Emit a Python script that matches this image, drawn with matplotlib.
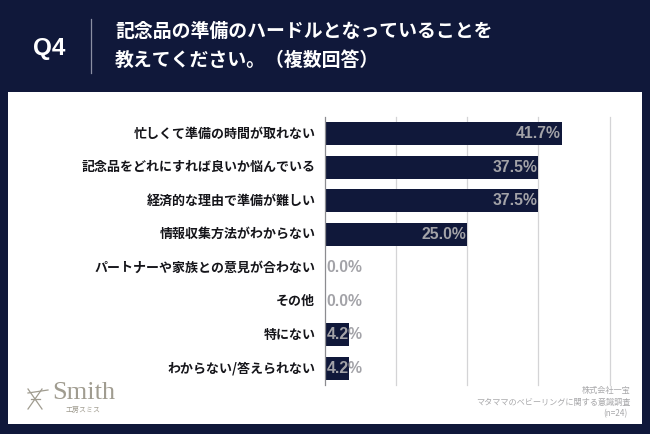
import matplotlib
matplotlib.use("Agg")
import matplotlib.pyplot as plt
from matplotlib.patches import Rectangle

plt.rcParams['font.family'] = ['Noto Sans CJK JP', 'DejaVu Sans']

categories = ["忙しくて準備の時間が取れない", "記念品をどれにすれば良いか悩んでいる", "経済的な理由で準備が難しい",
              "情報収集方法がわからない", "パートナーや家族との意見が合わない", "その他", "特にない", "わからない/答えられない"]
values = [41.7, 37.5, 37.5, 25.0, 0.0, 0.0, 4.2, 4.2]
grid_ticks = [12.5, 25, 37.5, 50]
title_lines = ["記念品の準備のハードルとなっていることを", "教えてください。（複数回答）"]
source_lines = ["株式会社一宝", "マタママのベビーリングに関する意識調査", "(n=24)"]

W, H = 650, 434
NAVY = "#10183a"
fig = plt.figure(figsize=(W/100, H/100), dpi=100, facecolor=NAVY)

def fx(x): return x / W
def fy(y): return 1 - y / H

fig.add_artist(Rectangle((fx(8), fy(424)), (642-8)/W, (424-92)/H, transform=fig.transFigure,
                         facecolor="white", edgecolor="none", zorder=-5))

ax = fig.add_axes([fx(325), fy(385), (609.5-325)/W, (385-117)/H], facecolor="none", zorder=2)
ax.set_xlim(0, 50)
ax.set_ylim(7.5, -0.5)
ax.barh(range(len(values)), values, height=0.7, color=NAVY, zorder=3)
ax.set_xticks(grid_ticks)
ax.xaxis.grid(True, color="#d4d4d6", lw=0.9, zorder=1)
for gl in ax.get_xgridlines():
    gl.set_clip_on(False)
ax.set_axisbelow(True)
ax.tick_params(left=False, bottom=False, labelbottom=False, labelleft=False)
for s in ["top", "right", "bottom"]:
    ax.spines[s].set_visible(False)
ax.spines["left"].set_color("#8c8c90")
ax.spines["left"].set_linewidth(0.9)
ax.spines["left"].set_zorder(4)

for i, (c, v) in enumerate(zip(categories, values)):
    ax.annotate(c, (0, i), xytext=(-7, 0), textcoords="offset points", ha="right", va="center",
                fontsize=9.35, fontweight="bold", color="#15151a")
    if v >= 20:
        ax.annotate(f"{v:.1f}%", (v, i), xytext=(-1, 0), textcoords="offset points", ha="right",
                    va="center", fontsize=11.3, fontweight="bold", color="#a3a3a8",
                    family=["Liberation Sans"], zorder=5)
    else:
        ax.annotate(f"{v:.1f}%", (0, i), xytext=(1.2, 0), textcoords="offset points", ha="left",
                    va="center", fontsize=11.3, fontweight="bold", color="#a3a3a8",
                    family=["Liberation Sans"], zorder=5)

# Header
fig.text(fx(33), fy(49), "Q4", color="white", fontsize=17.5, fontweight="bold", va="center",
         family=["Liberation Sans"])
fig.add_artist(plt.Line2D([fx(90.5), fx(90.5)], [fy(19), fy(73)], color="#8b8fa3", lw=0.9))
fig.text(fx(115), fy(31), title_lines[0], color="white", fontsize=13.6, fontweight="bold", va="center")
fig.text(fx(115), fy(60), title_lines[1], color="white", fontsize=13.6, fontweight="bold", va="center")

# Source
for (t, x, y) in zip(source_lines, [631, 631, 627], [390, 402, 414]):
    fig.text(fx(x), fy(y), t, color="#a8a8aa", fontsize=5.9, ha="right", va="center")

# Logo
LOGO = "#a09c90"
fig.text(fx(52), fy(393), "Smith", color=LOGO, fontsize=19, va="center", family=["Liberation Serif"])
fig.text(fx(66), fy(410), "工房スミス", color=LOGO, fontsize=5.0, va="center")
for (x0, y0, x1, y1) in [(28, 389, 42, 409), (42, 389, 28, 409), (28, 393, 48, 390), (31, 399, 40, 399)]:
    fig.add_artist(plt.Line2D([fx(x0), fx(x1)], [fy(y0), fy(y1)], color=LOGO, lw=0.9))

fig.savefig("out.png", dpi=100, facecolor=NAVY)
